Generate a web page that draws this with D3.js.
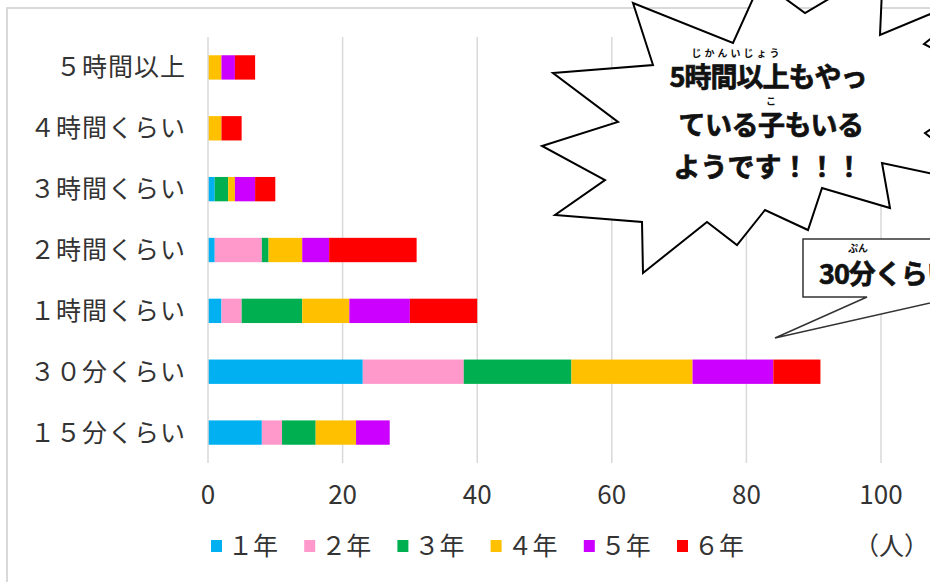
<!DOCTYPE html>
<html>
  <head>
    <meta charset="utf-8">
    <script src="https://cdn.jsdelivr.net/npm/d3@7"></script>
    <style type="text/css">
      body { margin: 0; background: #fff; }
      .cat text, .tick-label, .legend text {
        font-family: "Noto Sans CJK JP", sans-serif;
        fill: #333;
      }
      .bubble text {
        font-family: "Noto Sans CJK JP", sans-serif;
        font-weight: bold;
        fill: #111;
      }
      .bubble text.big {
        stroke: #111;
        stroke-width: 0.7px;
      }
    </style>
  </head>
  <body>
    <div class="plot_canvas"></div>
    <script>

    // categories (top to bottom) and grade series
    var categories = ["５時間以上", "４時間くらい", "３時間くらい", "２時間くらい", "１時間くらい", "３０分くらい", "１５分くらい"];
    var grades = ["１年", "２年", "３年", "４年", "５年", "６年"];
    var colors = ["#00b0f0", "#ff99cc", "#00b050", "#ffc000", "#cc00ff", "#ff0000"];

    var g1 = [0, 0, 1, 1, 2, 23, 8];
    var g2 = [0, 0, 0, 7, 3, 15, 3];
    var g3 = [0, 0, 2, 1, 9, 16, 5];
    var g4 = [2, 2, 1, 5, 7, 18, 6];
    var g5 = [2, 0, 3, 4, 9, 12, 5];
    var g6 = [3, 3, 3, 13, 10, 7, 0];
    var xTicks = [0, 20, 40, 60, 80, 100];

    var series = [g1, g2, g3, g4, g5, g6];
    var rows = categories.map(function(c, i) {
      var r = { cat: c };
      grades.forEach(function(g, j) { r[g] = series[j][i]; });
      return r;
    });

    var W = 930, H = 582;
    var svg = d3.select(".plot_canvas").append("svg")
      .attr("width", W).attr("height", H);

    // outer chart frame
    svg.append("rect")
      .attr("x", 7).attr("y", 8).attr("width", 1000).attr("height", 1000)
      .attr("fill", "none").attr("stroke", "#d9d9d9").attr("stroke-width", 2);

    var xScale = d3.scaleLinear().domain([0, 120]).range([208, 208 + 120 * 6.73]);
    var yScale = d3.scaleBand().domain(categories).range([37, 463])
      .paddingInner(0.6).paddingOuter(0.3);

    // gridlines
    svg.append("g").selectAll("line")
      .data(xTicks.slice(1)).enter()
      .append("line")
      .attr("x1", function(d) { return xScale(d); })
      .attr("x2", function(d) { return xScale(d); })
      .attr("y1", 37).attr("y2", 463)
      .attr("stroke", "#d9d9d9").attr("stroke-width", 1.5);

    // bars
    var stack = d3.stack().keys(grades)(rows);
    svg.append("g").selectAll("g")
      .data(stack).enter()
      .append("g")
      .attr("fill", function(d, i) { return colors[i]; })
      .selectAll("rect")
      .data(function(d) { return d; }).enter()
      .append("rect")
      .attr("x", function(d) { return xScale(d[0]); })
      .attr("y", function(d) { return yScale(d.data.cat); })
      .attr("width", function(d) { return xScale(d[1]) - xScale(d[0]); })
      .attr("height", yScale.bandwidth());

    // category axis line
    svg.append("line")
      .attr("x1", xScale(0)).attr("x2", xScale(0))
      .attr("y1", 37).attr("y2", 463)
      .attr("stroke", "#d9d9d9").attr("stroke-width", 1.5);

    // category labels
    svg.append("g").attr("class", "cat").selectAll("text")
      .data(categories).enter()
      .append("text")
      .attr("x", 186)
      .attr("y", function(d) { return yScale(d) + yScale.bandwidth() / 2; })
      .attr("dy", "0.36em")
      .attr("text-anchor", "end")
      .style("font-size", "25px")
      .style("letter-spacing", "1px")
      .text(function(d) { return d; });

    // value tick labels
    svg.append("g").selectAll("text")
      .data(xTicks).enter()
      .append("text")
      .attr("class", "tick-label")
      .attr("x", function(d) { return xScale(d); })
      .attr("y", 495)
      .attr("dy", "0.36em")
      .attr("text-anchor", "middle")
      .style("font-size", "26px")
      .text(function(d) { return d; });

    // legend
    var legend = svg.append("g").attr("class", "legend").selectAll("g")
      .data(grades).enter()
      .append("g")
      .attr("transform", function(d, i) { return "translate(" + (211 + i * 93.2) + ",546)"; });
    legend.append("rect")
      .attr("x", 0).attr("y", -6).attr("width", 11).attr("height", 12)
      .attr("fill", function(d, i) { return colors[i]; });
    legend.append("text")
      .attr("x", 17).attr("dy", "0.36em")
      .style("font-size", "25px")
      .text(function(d) { return d; });
    svg.append("text").attr("class", "tick-label")
      .attr("x", 929).attr("y", 546).attr("dy", "0.36em")
      .attr("text-anchor", "end")
      .style("font-size", "25px")
      .text("（人）");

    // starburst callout
    var burst = [[553,73],[653,65],[633,3],[733,43],[761,-19],[805,13],[883,-33],[880,35],
      [1000,-15],[924,44],[1000,85],[925,133],[990,186],[882,163],[890,208],[822,188],
      [808,230],[765,210],[737,245],[707,222],[643,273],[642,222],[555,215],[605,180],
      [542,146],[618,122]];
    var b = svg.append("g").attr("class", "bubble");
    b.append("path")
      .attr("d", "M" + burst.join("L") + "Z")
      .attr("fill", "#fff").attr("stroke", "#000").attr("stroke-width", 2)
      .attr("stroke-linejoin", "miter");
    b.append("text").attr("class", "big").attr("x", 768).attr("y", 87).attr("text-anchor", "middle")
      .style("font-size", "27px").style("letter-spacing", "-1px").text("5時間以上もやっ");
    b.append("text").attr("x", 737).attr("y", 57).attr("text-anchor", "middle")
      .style("font-size", "10px").style("letter-spacing", "3px").text("じかんいじょう");
    b.append("text").attr("class", "big").attr("x", 771).attr("y", 135).attr("text-anchor", "middle")
      .style("font-size", "27px").style("letter-spacing", "-0.5px").text("ている子もいる");
    b.append("text").attr("x", 771).attr("y", 105).attr("text-anchor", "middle")
      .style("font-size", "10px").text("こ");
    b.append("text").attr("class", "big").attr("x", 768).attr("y", 177).attr("text-anchor", "middle")
      .style("font-size", "27px").text("ようです！！！");

    // rectangle callout
    var c = svg.append("g").attr("class", "bubble");
    c.append("path")
      .attr("d", "M803,239L1000,239L1000,297L957,297L775,338L867,297L803,297Z")
      .attr("fill", "#fff").attr("stroke", "#333").attr("stroke-width", 1.5);
    c.append("text").attr("class", "big").attr("x", 819).attr("y", 284)
      .style("font-size", "27px").style("letter-spacing", "-1px").text("30分くらい");
    c.append("text").attr("x", 858).attr("y", 252).attr("text-anchor", "middle")
      .style("font-size", "10px").text("ぷん");

    </script>
  </body>
</html>
